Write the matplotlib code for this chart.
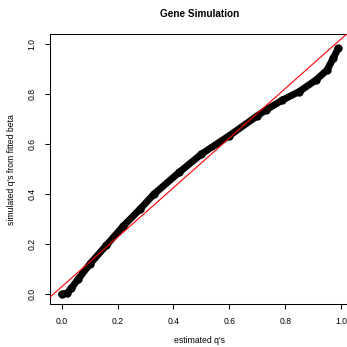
import numpy as np
import matplotlib
matplotlib.use("Agg")
import matplotlib.pyplot as plt

plt.rcParams['font.family'] = ['Liberation Sans', 'DejaVu Sans']

# estimated q's vs simulated q's
est_q = [0.000, 0.020, 0.035, 0.060, 0.100, 0.160, 0.220, 0.280, 0.330,
         0.420, 0.500, 0.600, 0.700, 0.730, 0.790, 0.850, 0.910, 0.950,
         0.972, 0.990]
sim_q = [0.000, 0.005, 0.025, 0.062, 0.120, 0.196, 0.272, 0.340, 0.400,
         0.487, 0.560, 0.634, 0.713, 0.736, 0.776, 0.810, 0.856, 0.896,
         0.943, 0.983]

# red reference line
line_intercept = 0.030
line_slope = 0.99

ticks = [0.0, 0.2, 0.4, 0.6, 0.8, 1.0]
tick_labels = ["0.0", "0.2", "0.4", "0.6", "0.8", "1.0"]

W, H = 347, 347
fig = plt.figure(figsize=(W / 100, H / 100), dpi=100)
ax = fig.add_axes([50 / W, (H - 304) / H, (349 - 50) / W, (304 - 34) / H])

ax.plot(est_q, sim_q, color='black', lw=5, solid_capstyle='round',
        solid_joinstyle='round', marker='o', ms=5, zorder=2)
ax.axline((0, line_intercept), slope=line_slope, color='#ff0000', lw=0.8, zorder=3)

ax.set_xlim(-0.0419, 1.0286)
ax.set_ylim(-0.0388, 1.0403)
ax.set_xticks(ticks)
ax.set_xticklabels(tick_labels)
ax.set_yticks(ticks)
ax.set_yticklabels(tick_labels, rotation=90, va='center')
ax.tick_params(direction='out', length=3.6, width=0.75, labelsize=6.2, pad=6)
for s in ax.spines.values():
    s.set_linewidth(0.75)

ax.set_xlabel("estimated q's", fontsize=6.2, va='center')
ax.xaxis.set_label_coords(0.5 + (199 - 199.5) / 299, (304 - 340.7) / 270)
ax.set_ylabel("simulated q's from fitted beta", fontsize=6.2, va='center')
ax.yaxis.set_label_coords((12 - 50) / 299, (304 - 170) / 270)
fig.text(199.7 / W, 1 - 14 / H, "Gene Simulation", fontsize=7.2, fontweight='bold',
         ha='center', va='center')

fig.savefig("out.png", dpi=100)
